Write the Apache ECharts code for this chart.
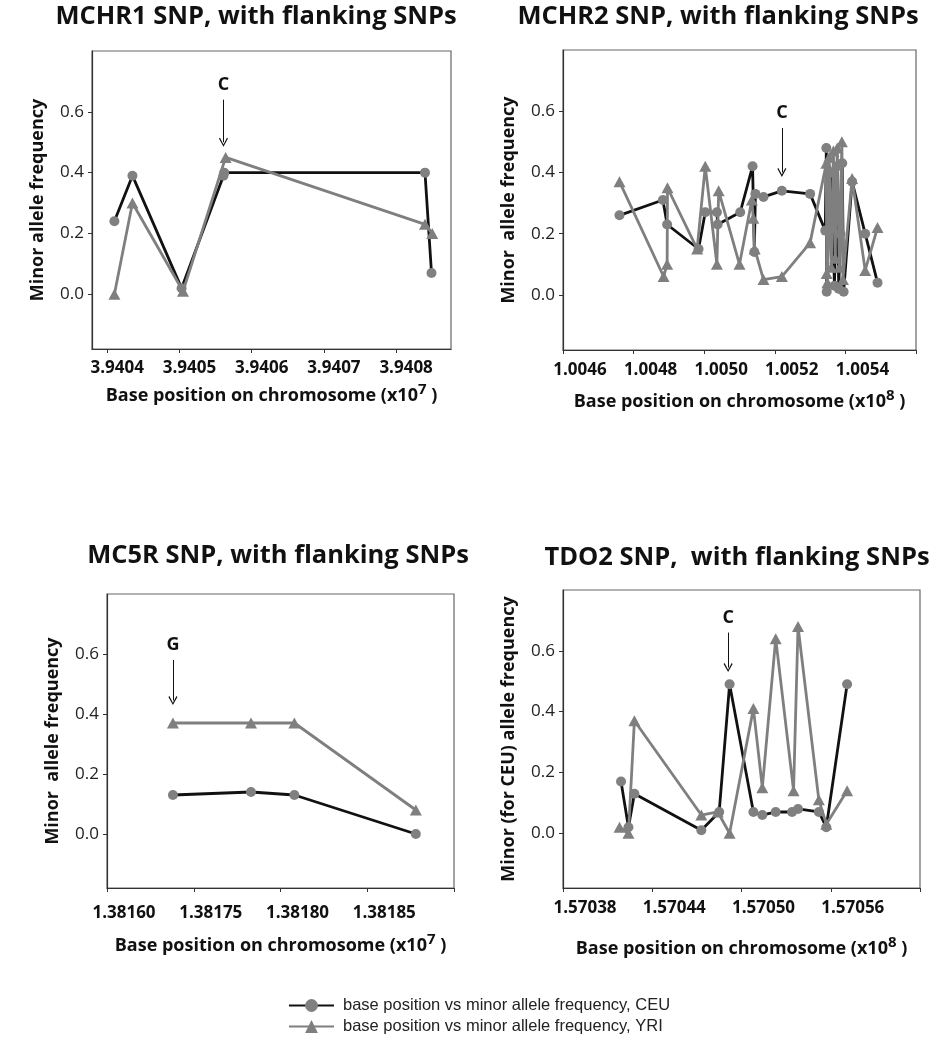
<!DOCTYPE html>
<html>
<head>
<meta charset="utf-8">
<script src="https://cdn.jsdelivr.net/npm/echarts@6/dist/echarts.min.js"></script>
<style>
  html, body { margin: 0; padding: 0; background: #fff; }
  #main { width: 939px; height: 1050px; }
</style>
</head>
<body>
<div id="main"></div>
<script>
// series names (legend)
var CEU_NAME = 'base position vs minor allele frequency, CEU';
var YRI_NAME = 'base position vs minor allele frequency, YRI';

// MCHR1 (x10^7)
var mchr1CeuX = [3.94041, 3.940435, 3.940503, 3.940561, 3.940562, 3.94084, 3.940849];
var mchr1CeuY = [0.24, 0.39, 0.02, 0.39, 0.40, 0.40, 0.07];
var mchr1YriX = [3.94041, 3.940435, 3.940505, 3.940564, 3.94084, 3.94085];
var mchr1YriY = [0.00, 0.30, 0.01, 0.45, 0.23, 0.20];
var mchr1Ticks = [3.9404, 3.9405, 3.9406, 3.9407, 3.9408];
var mchr1Labels = ['3.9404', '3.9405', '3.9406', '3.9407', '3.9408'];

// MCHR2 (x10^8)
var mchr2CeuX = [1.00476, 1.004883, 1.004895, 1.004984, 1.005003, 1.005036, 1.005038, 1.005102,
    1.005137, 1.005142, 1.005145, 1.005168, 1.00522, 1.0053, 1.005343, 1.005346, 1.005347,
    1.005352, 1.00536, 1.005369, 1.005377, 1.005381, 1.005386, 1.005391, 1.005395,
    1.005419, 1.005456, 1.005491];
var mchr2CeuY = [0.26, 0.31, 0.23, 0.15, 0.27, 0.27, 0.23, 0.27,
    0.42, 0.14, 0.33, 0.32, 0.34, 0.33, 0.21, 0.48, 0.01,
    0.21, 0.40, 0.03, 0.42, 0.02, 0.20, 0.43, 0.01,
    0.37, 0.20, 0.04];
var mchr2YriX = [1.00476, 1.004885, 1.004895, 1.004896, 1.00498, 1.005003, 1.005036, 1.005041,
    1.0051, 1.005135, 1.005139, 1.005143, 1.005168, 1.00522, 1.0053, 1.005346, 1.005347,
    1.005349, 1.005354, 1.00536, 1.005366, 1.005371, 1.005377, 1.005383, 1.00539, 1.005393,
    1.005419, 1.005456, 1.005491];
var mchr2YriY = [0.37, 0.06, 0.10, 0.35, 0.15, 0.42, 0.10, 0.34,
    0.10, 0.31, 0.25, 0.15, 0.05, 0.06, 0.17, 0.43, 0.07,
    0.04, 0.45, 0.09, 0.47, 0.12, 0.48, 0.09, 0.50, 0.05,
    0.38, 0.08, 0.22];
var mchr2Ticks = [1.0046, 1.0048, 1.0050, 1.0052, 1.0054, 1.0056];
var mchr2Labels = ['1.0046', '1.0048', '1.0050', '1.0052', '1.0054', ''];

// MC5R (x10^7)
var mc5rCeuX = [1.381738, 1.381783, 1.381808, 1.381878];
var mc5rCeuY = [0.13, 0.14, 0.13, 0.00];
var mc5rYriX = [1.381738, 1.381783, 1.381808, 1.381878];
var mc5rYriY = [0.37, 0.37, 0.37, 0.08];
var mc5rTicks = [1.3817, 1.38175, 1.3818, 1.38185, 1.3819];
var mc5rLabels = ['1.38160', '1.38175', '1.38180', '1.38185', ''];

// TDO2 (x10^8)
var tdo2CeuX = [1.570419, 1.570424, 1.570428, 1.570473, 1.570485, 1.570492, 1.570508,
    1.570514, 1.570523, 1.570534, 1.570538, 1.570552, 1.570557, 1.570571];
var tdo2CeuY = [0.17, 0.02, 0.13, 0.01, 0.07, 0.49, 0.07, 0.06, 0.07, 0.07, 0.08, 0.07, 0.02, 0.49];
var tdo2YriX = [1.570418, 1.570424, 1.570428, 1.570473, 1.570484, 1.570492, 1.570508,
    1.570514, 1.570523, 1.570535, 1.570538, 1.570552, 1.570557, 1.570571];
var tdo2YriY = [0.02, 0.00, 0.37, 0.06, 0.07, 0.00, 0.41, 0.15, 0.64, 0.14, 0.68, 0.11, 0.03, 0.14];
var tdo2Ticks = [1.57038, 1.57044, 1.5705, 1.57056, 1.57062];
var tdo2Labels = ['1.57038', '1.57044', '1.57050', '1.57056', ''];

// y axis
var yTicks = [0, 0.2, 0.4, 0.6];
var yLabels = ['0.0', '0.2', '0.4', '0.6'];

// annotated SNPs
var mchr1Arrow = { x: 3.940561, from: 0.64, to: 0.50, text: 'C' };
var mchr2Arrow = { x: 1.00522, from: 0.545, to: 0.40, text: 'C' };
var mc5rArrow = { x: 1.381738, from: 0.58, to: 0.445, text: 'G' };
var tdo2Arrow = { x: 1.570491, from: 0.66, to: 0.545, text: 'C' };

var FONT = 'Open Sans';
var BLACK = '#111';
var GREY = '#7f7f7f';
var CHEVRON = 'path://M5 0 L10 9 L8.9 10 L5 2.6 L1.1 10 L0 9 Z';

function zip(xs, ys) {
    return xs.map(function (x, i) { return [x, ys[i]]; });
}

function pickLabel(ticks, labels) {
    return function (v) {
        var best = 0;
        ticks.forEach(function (t, i) {
            if (Math.abs(t - v) < Math.abs(ticks[best] - v)) best = i;
        });
        return labels[best];
    };
}

var panels = [
    { grid: { left: 92, top: 51, width: 359, height: 298 }, min: 3.940379, max: 3.940876,
      ticks: mchr1Ticks, labels: mchr1Labels, shift: 20, labelMargin: 11, exp: '7', nameGap: 33,
      yName: 'Minor allele frequency', yGap: 45,
      ceu: zip(mchr1CeuX, mchr1CeuY), yri: zip(mchr1YriX, mchr1YriY), arrow: mchr1Arrow },
    { grid: { left: 563, top: 50, width: 353, height: 300 }, min: 1.0046, max: 1.0056,
      ticks: mchr2Ticks, labels: mchr2Labels, shift: 34, labelMargin: 12, exp: '8', nameGap: 38,
      yName: 'Minor  allele frequency', yGap: 45,
      ceu: zip(mchr2CeuX, mchr2CeuY), yri: zip(mchr2YriX, mchr2YriY), arrow: mchr2Arrow },
    { grid: { left: 107, top: 594, width: 347, height: 294 }, min: 1.3817, max: 1.3819,
      ticks: mc5rTicks, labels: mc5rLabels, shift: 34, labelMargin: 17, exp: '7', nameGap: 44,
      yName: 'Minor  allele frequency', yGap: 45,
      ceu: zip(mc5rCeuX, mc5rCeuY), yri: zip(mc5rYriX, mc5rYriY), arrow: mc5rArrow },
    { grid: { left: 563, top: 590, width: 357, height: 298 }, min: 1.57038, max: 1.57062,
      ticks: tdo2Ticks, labels: tdo2Labels, shift: 44, labelMargin: 12, exp: '8', nameGap: 47,
      yName: 'Minor (for CEU) allele frequency', yGap: 45,
      ceu: zip(tdo2CeuX, tdo2CeuY), yri: zip(tdo2YriX, tdo2YriY), arrow: tdo2Arrow }
];

var titles = [
    { text: 'MCHR1 SNP, with flanking SNPs', left: 256, top: 4 },
    { text: 'MCHR2 SNP, with flanking SNPs', left: 718, top: 4 },
    { text: 'MC5R SNP, with flanking SNPs', left: 278, top: 543 },
    { text: 'TDO2 SNP,  with flanking SNPs', left: 737, top: 545 }
];

var option = {
    animation: false,
    backgroundColor: '#fff',
    title: titles.map(function (t) {
        return {
            text: t.text, left: t.left, top: t.top, textAlign: 'center', padding: 0,
            textStyle: { fontFamily: FONT, fontWeight: 'bold', fontSize: 25.5, color: '#111' }
        };
    }),
    legend: {
        orient: 'vertical', left: 288, top: 997, padding: 0, itemWidth: 45, itemHeight: 16, itemGap: 4,
        data: [CEU_NAME, YRI_NAME],
        textStyle: { fontFamily: 'Liberation Sans', fontSize: 16.5, color: '#222', padding: [0, 0, 0, 4] }
    },
    grid: [],
    xAxis: [],
    yAxis: [],
    series: []
};

panels.forEach(function (p, i) {
    option.grid.push({
        left: p.grid.left, top: p.grid.top, width: p.grid.width, height: p.grid.height,
        show: true, borderColor: '#666', borderWidth: 1.2, containLabel: false
    });
    option.xAxis.push({
        type: 'value', gridIndex: i, min: p.min, max: p.max,
        name: 'Base position on chromosome (x10{sup|' + p.exp + '} )',
        nameLocation: 'middle', nameGap: p.nameGap,
        nameTextStyle: {
            fontFamily: FONT, fontWeight: 'bold', fontSize: 18, color: '#111',
            rich: { sup: { fontFamily: FONT, fontWeight: 'bold', fontSize: 15, color: '#111', verticalAlign: 'top', padding: [0, 0, 12, 0] } }
        },
        axisLine: { onZero: false, lineStyle: { color: '#333', width: 1.2 } },
        axisTick: { show: true, length: 4, customValues: p.ticks, lineStyle: { color: '#333' } },
        axisLabel: {
            customValues: p.ticks, margin: p.labelMargin, padding: [0, 0, 0, p.shift],
            formatter: pickLabel(p.ticks, p.labels),
            fontFamily: FONT, fontWeight: 'bold', fontSize: 17, color: '#111',
            showMinLabel: true, showMaxLabel: true
        },
        splitLine: { show: false }
    });
    option.yAxis.push({
        type: 'value', gridIndex: i, min: -0.18, max: 0.8,
        name: p.yName, nameLocation: 'middle', nameGap: p.yGap,
        nameTextStyle: { fontFamily: FONT, fontWeight: 'bold', fontSize: 18, color: '#111' },
        axisLine: { show: true, onZero: false, lineStyle: { color: '#333', width: 1.2 } },
        axisTick: { show: true, length: 4, customValues: yTicks, lineStyle: { color: '#333' } },
        axisLabel: {
            customValues: yTicks, margin: 8, formatter: pickLabel(yTicks, yLabels),
            fontFamily: FONT, fontSize: 17, color: '#222'
        },
        splitLine: { show: false }
    });
    option.series.push({
        name: CEU_NAME, type: 'line', xAxisIndex: i, yAxisIndex: i, data: p.ceu,
        symbol: 'circle', symbolSize: 10, showAllSymbol: true,
        itemStyle: { color: '#808080' }, lineStyle: { color: BLACK, width: 2.8 },
        markLine: {
            silent: true, symbol: ['none', CHEVRON], symbolSize: [9, 9],
            lineStyle: { color: BLACK, width: 1, type: 'solid' },
            label: {
                show: true, position: 'start', distance: 6, formatter: p.arrow.text,
                fontFamily: FONT, fontWeight: 'bold', fontSize: 18, color: '#111'
            },
            emphasis: { disabled: true },
            data: [[{ coord: [p.arrow.x, p.arrow.from] }, { coord: [p.arrow.x, p.arrow.to] }]]
        }
    });
    option.series.push({
        name: YRI_NAME, type: 'line', xAxisIndex: i, yAxisIndex: i, data: p.yri,
        symbol: 'triangle', symbolSize: [12, 11], showAllSymbol: true,
        itemStyle: { color: GREY }, lineStyle: { color: GREY, width: 2.8 }
    });
});

var myChart = echarts.init(document.getElementById('main'));
option && myChart.setOption(option);
</script>
</body>
</html>
